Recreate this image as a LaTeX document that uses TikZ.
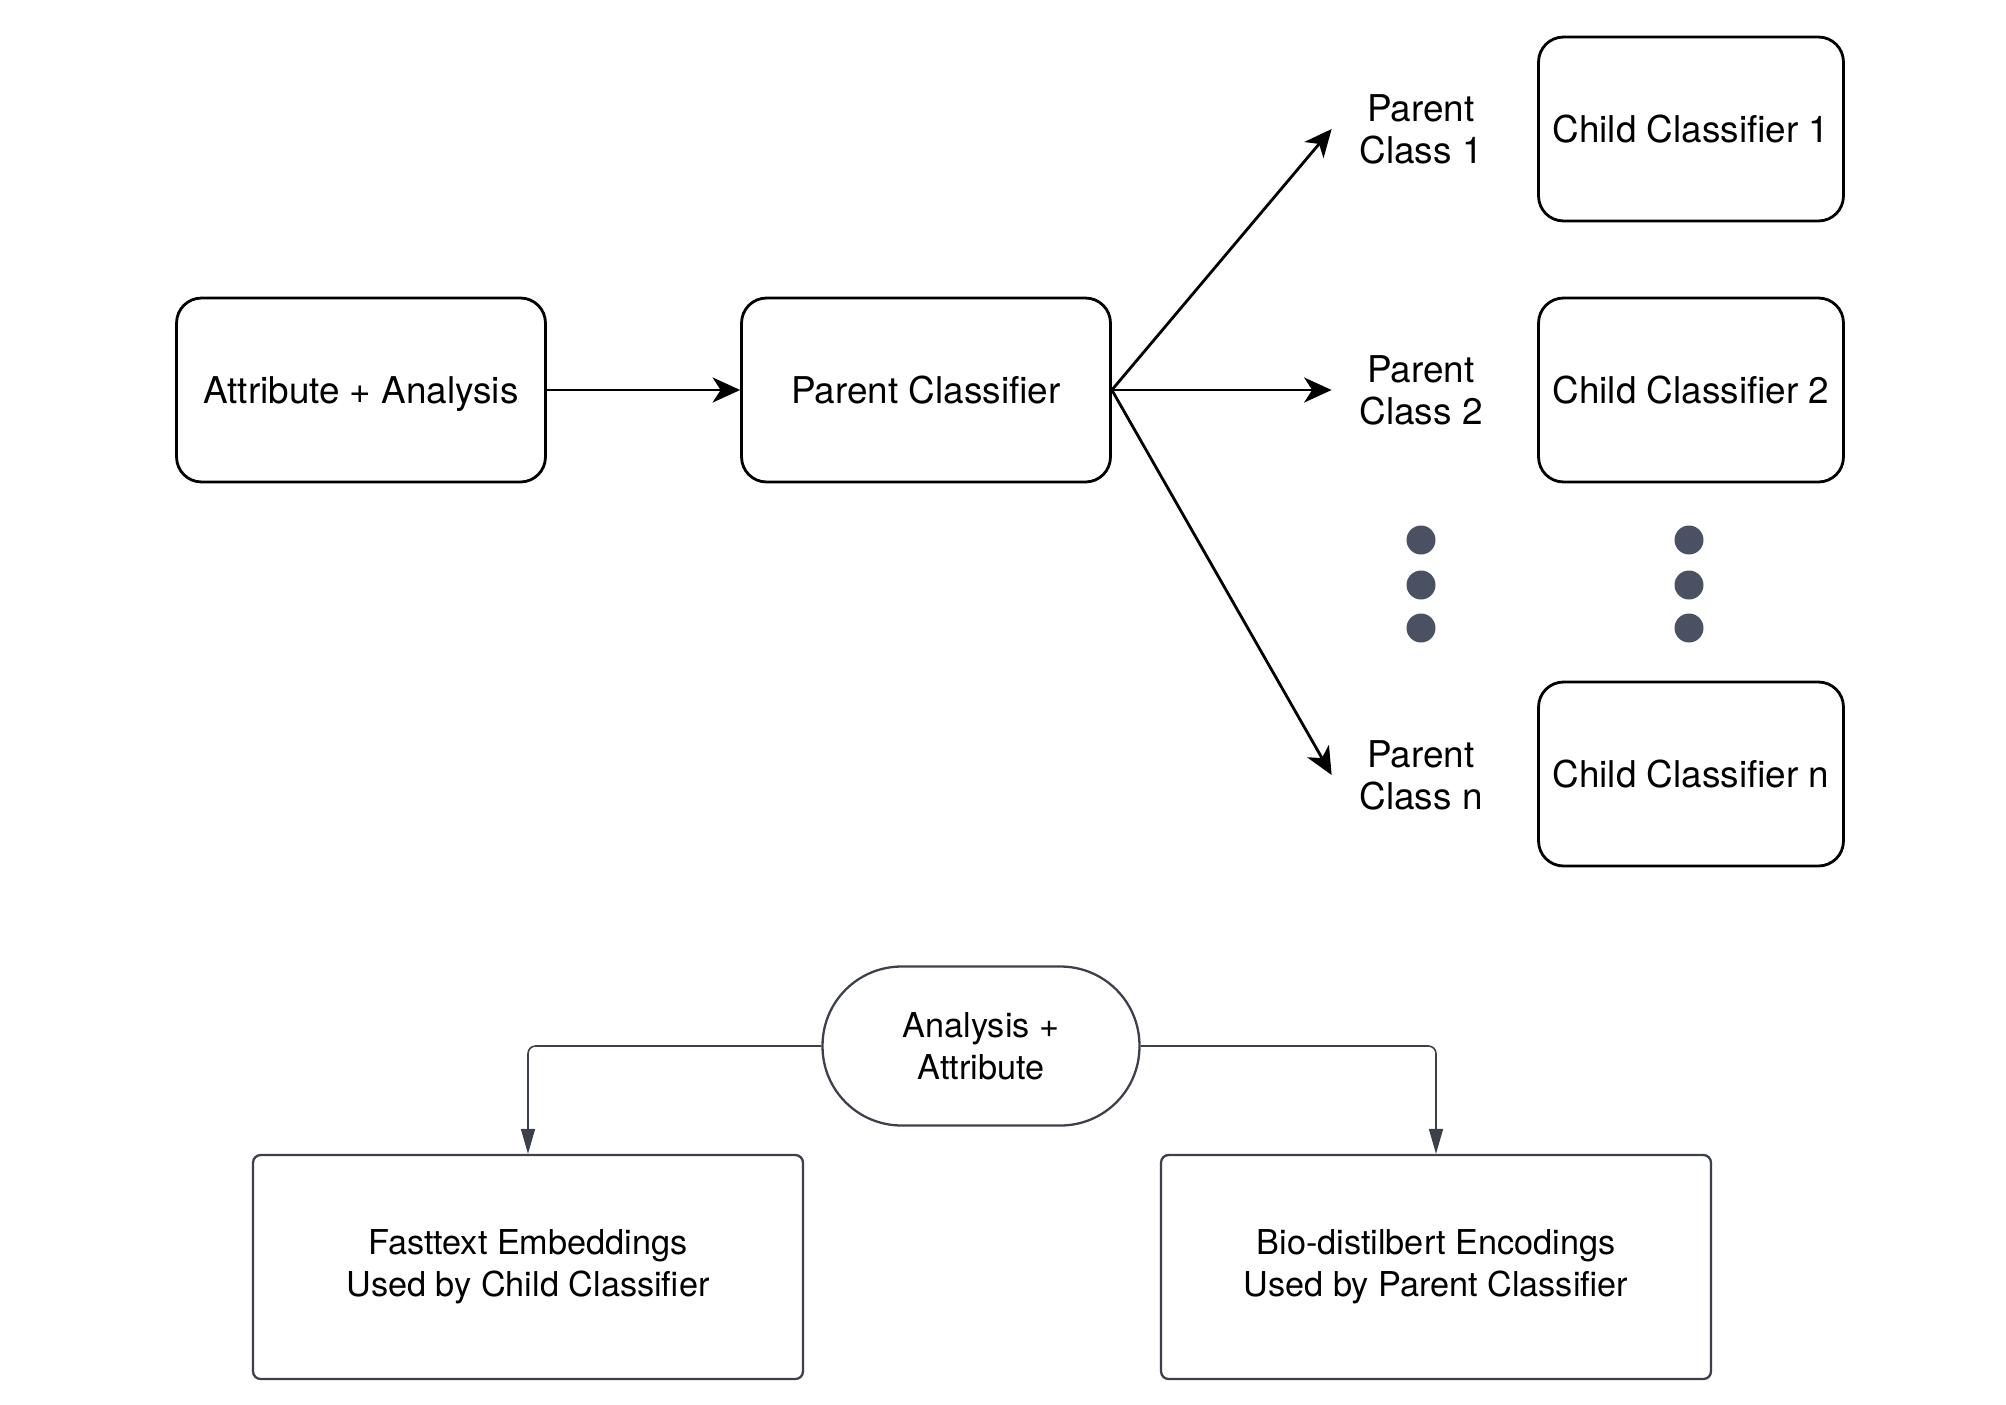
\documentclass[tikz,border=0pt]{standalone}
\usepackage{fontspec}
\setmainfont{TeX Gyre Heros}
\usetikzlibrary{arrows.meta, positioning, calc}

\definecolor{dotgray}{HTML}{4A5163}
\definecolor{linegray}{HTML}{3C404A}

\begin{document}
\begin{tikzpicture}[
    x=0.02cm, y=-0.02cm,
    >={Stealth[length=5.5mm, width=5mm, inset=1.6mm]}, % Arrowheads of the top flow
    stage box/.style={draw, line width=1.6pt, rounded corners=5mm, minimum width=7.38cm, minimum height=3.68cm, text height=15.5pt, text depth=0.5pt, font=\fontsize{21}{25}\selectfont}, % Boxes of the pipeline
    child box/.style={stage box, minimum width=6.1cm}, % Boxes of the child classifiers
    class label/.style={align=center, inner xsep=0.55cm, font=\fontsize{21}{24}\selectfont}, % Labels of the parent classes
    vdot/.style={circle, fill=dotgray, inner sep=0pt, minimum size=0.58cm}, % Dots for the omitted classes
    flow arrow/.style={->, line width=1.6pt},
    start node/.style={draw=linegray, line width=1.3pt, rounded corners=1.58cm, minimum width=6.34cm, minimum height=3.18cm, align=center, font=\fontsize{19.5}{24}\selectfont},
    emb box/.style={draw=linegray, line width=1.3pt, rounded corners=1.5mm, minimum width=11cm, minimum height=4.48cm, align=center, font=\fontsize{19.5}{24}\selectfont},
    split arrow/.style={-{Triangle[length=5mm, width=2.8mm]}, draw=linegray, line width=0.9pt, rounded corners=1.5mm}
]

    \useasboundingbox (0,0) rectangle (2006,1404);

    % === Pipeline ===
    \node[stage box] (input) at (361,390) {Attribute + Analysis};
    \node[stage box] (parent) at (926,390) {Parent Classifier};

    \draw[flow arrow] (input) -- (parent);

    % === Parent classes ===
    \node[class label] (class1) at (1421,129) {Parent\\Class 1};
    \node[class label] (class2) at (1421,390) {Parent\\Class 2};
    \node[class label] (classn) at (1421,775) {Parent\\Class n};

    \draw[flow arrow] (parent.east) -- (class1.west);
    \draw[flow arrow] (parent.east) -- (class2.west);
    \draw[flow arrow] (parent.east) -- (classn.west);

    % === Child classifiers ===
    \node[child box] (child1) at (1691,129) {Child Classifier 1};
    \node[child box] (child2) at (1691,390) {Child Classifier 2};
    \node[child box] (childn) at (1691,774) {Child Classifier n};

    % Dots between class 2 and class n
    \foreach \y [count=\i] in {540,585,628} {
        \node[vdot] (cdot\i) at (1421,\y) {};
        \node[vdot] (kdot\i) at (1689,\y) {};
    }

    % === Embeddings ===
    \node[start node] (source) at (981,1046) {Analysis +\\Attribute};
    \node[emb box] (fasttext) at (528,1267) {Fasttext Embeddings\\Used by Child Classifier};
    \node[emb box] (biobert) at (1436,1267) {Bio-distilbert Encodings\\Used by Parent Classifier};

    \draw[split arrow] (source.west) -| (fasttext.north);
    \draw[split arrow] (source.east) -| (biobert.north);

\end{tikzpicture}
\end{document}
